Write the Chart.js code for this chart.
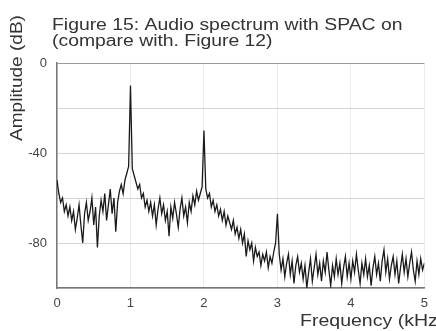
<!DOCTYPE html>
<html>
<head>
<meta charset="utf-8">
<script src="https://cdn.jsdelivr.net/npm/chart.js@4/dist/chart.umd.min.js"></script>
<style>
html,body{margin:0;padding:0;background:#fff;}
canvas{display:block;}
</style>
</head>
<body>
<canvas id="c" width="436" height="331"></canvas>
<script>
const titleLines = ["Figure 15: Audio spectrum with SPAC on", "(compare with. Figure 12)"];
const yAxisTitle = "Amplitude (dB)";
const xAxisTitle = "Frequency (kHz)";
const xTicks = [0, 1, 2, 3, 4, 5];
const yTickLabels = [0, -40, -80];
const freqStepKHz = 0.025;
const amplitudeDb = [
 -52,-58,-62,-60,-66,-63,-68,-64,-70,-66,
 -74,-69,-63,-72,-80,-67,-62,-70,-66,-60,
 -72,-64,-82,-68,-61,-66,-58,-70,-63,-56,
 -67,-60,-75,-62,-57,-54,-58,-52,-49,-46,
 -10,-47,-50,-53,-56,-54,-60,-58,-64,-61,
 -66,-62,-68,-63,-72,-65,-60,-67,-63,-70,
 -66,-77,-64,-69,-62,-67,-73,-65,-60,-68,
 -64,-71,-62,-66,-59,-63,-57,-61,-58,-55,
 -30,-56,-60,-58,-64,-61,-66,-63,-68,-65,
 -70,-66,-72,-68,-71,-74,-70,-76,-73,-78,
 -74,-80,-76,-86,-79,-83,-80,-88,-82,-86,
 -84,-90,-85,-88,-84,-91,-86,-89,-84,-80,
 -67,-85,-92,-87,-95,-89,-85,-94,-88,-98,
 -90,-86,-93,-89,-96,-90,-100,-93,-87,-97,
 -91,-85,-94,-89,-97,-88,-93,-84,-92,-99,
 -90,-95,-87,-94,-89,-98,-91,-86,-95,-89,
 -96,-88,-93,-85,-92,-98,-89,-94,-87,-95,
 -90,-99,-91,-86,-94,-89,-97,-88,-83,-93,
 -87,-96,-90,-86,-94,-88,-98,-91,-85,-93,
 -87,-95,-89,-84,-92,-97,-88,-94,-87,-92,
 -89
];

const points = amplitudeDb.map((v, i) => ({x: +(i * freqStepKHz).toFixed(3), y: v}));

function stretchedText(ctx, text, x, y, sx) {
  ctx.save();
  ctx.translate(x, y);
  ctx.scale(sx, 1);
  ctx.fillText(text, 0, 0);
  ctx.restore();
}

const textPlugin = {
  id: 'textPlugin',
  afterDraw(chart) {
    const ctx = chart.ctx;
    ctx.save();
    ctx.fillStyle = '#333';
    ctx.font = '16px "Liberation Sans", Arial, sans-serif';
    ctx.textBaseline = 'middle';
    ctx.textAlign = 'left';
    stretchedText(ctx, titleLines[0], 52, 26, 1.21);
    stretchedText(ctx, titleLines[1], 52, 42, 1.21);
    stretchedText(ctx, xAxisTitle, 300, 322, 1.22);
    ctx.translate(18, 141);
    ctx.rotate(-Math.PI / 2);
    stretchedText(ctx, yAxisTitle, 0, 0, 1.19);
    ctx.restore();
  }
};

new Chart(document.getElementById('c'), {
  type: 'line',
  data: {
    datasets: [{
      data: points,
      borderColor: '#1a1a1a',
      borderWidth: 1.3,
      pointRadius: 0,
      tension: 0,
      fill: false
    }]
  },
  options: {
    responsive: false,
    animation: false,
    devicePixelRatio: 1,
    layout: {padding: {top: 63, right: 4, bottom: 0, left: 0}},
    plugins: {legend: {display: false}, tooltip: {enabled: false}, title: {display: false}},
    scales: {
      x: {
        type: 'linear',
        min: 0, max: 5,
        afterBuildTicks(scale) { scale.ticks = xTicks.map(v => ({value: v})); },
        afterFit(scale) { scale.height = 43; },
        grid: {color: '#ececec', drawTicks: false},
        border: {color: '#777', width: 1.5},
        ticks: {color: '#444', font: {size: 13, family: '"Liberation Sans", Arial'}, padding: 8, maxRotation: 0}
      },
      y: {
        min: -100, max: 0,
        afterBuildTicks(scale) { scale.ticks = [0,-20,-40,-60,-80,-100].map(v => ({value: v})); },
        afterFit(scale) { scale.width = 57; },
        grid: {color: (c) => c.tick && c.tick.value === 0 ? '#999' : '#d4d4d4', drawTicks: false},
        border: {color: '#777', width: 1.5},
        ticks: {
          color: '#444', font: {size: 13, family: '"Liberation Sans", Arial'}, padding: 10,
          callback: (v) => yTickLabels.includes(v) ? String(v) : ''
        }
      }
    }
  },
  plugins: [textPlugin]
});
</script>
</body>
</html>
